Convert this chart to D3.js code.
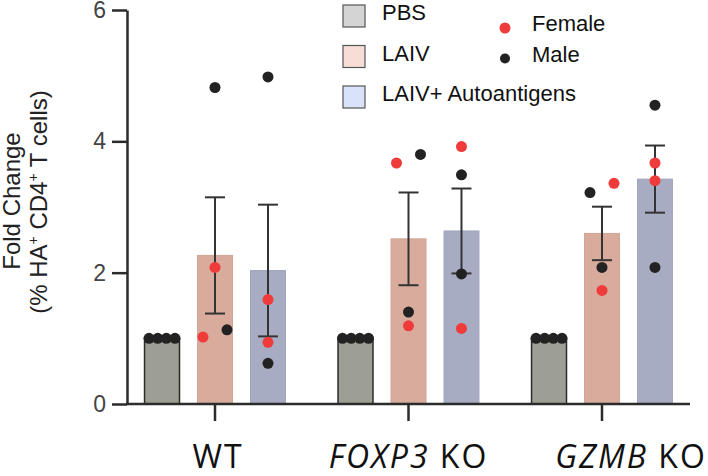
<!DOCTYPE html>
<html>
<head>
<meta charset="utf-8">
<script src="https://cdn.jsdelivr.net/npm/d3@7"></script>
<style>
  body { margin: 0; background: #fff; }
  svg { display: block; }
</style>
</head>
<body>
<div id="chart"></div>
<script>
var width = 708, height = 476;

// data
var groups = ["WT", "FOXP3 KO", "GZMB KO"];
var treatments = ["PBS", "LAIV", "LAIV+ Autoantigens"];
var yTicks = [0, 2, 4, 6];

// PBS: normalised to 1, all male
var pbsMale     = [[1, 1, 1, 1], [1, 1, 1, 1], [1, 1, 1, 1]];
var laivFemale  = [[2.08, 1.02], [3.67, 1.19], [3.36, 1.73]];
var laivMale    = [[4.82, 1.13], [3.80, 1.40], [3.22, 2.08]];
var autoFemale  = [[1.59, 0.94], [3.92, 1.15], [3.67, 3.40]];
var autoMale    = [[4.98, 0.62], [3.49, 1.98], [4.55, 2.08]];

var barFill   = ["#9d9f94", "#d9ab9c", "#a8acc3"];
var barStroke = ["#2b2b2b", "#d2a596", "#a2a6bd"];
var legFill   = ["#d4d4d4", "#f6ddd6", "#d8e3fa"];
var sexColor  = { F: "#f03b3b", M: "#222222" };

// build one record per bar
var bars = [];
groups.forEach(function(g, gi) {
    var sets = [
        { F: [], M: pbsMale[gi] },
        { F: laivFemale[gi], M: laivMale[gi] },
        { F: autoFemale[gi], M: autoMale[gi] }
    ];
    treatments.forEach(function(t, ti) {
        var pts = [];
        sets[ti].F.forEach(function(v) { pts.push({ v: v, sex: "F" }); });
        sets[ti].M.forEach(function(v) { pts.push({ v: v, sex: "M" }); });
        var vals = pts.map(function(p) { return p.v; });
        var mean = d3.mean(vals);
        var sem = d3.deviation(vals) / Math.sqrt(vals.length);
        bars.push({ group: g, gi: gi, treat: t, ti: ti, pts: pts, mean: mean, sem: sem });
    });
});

var svg = d3.select("#chart").append("svg")
    .attr("width", width)
    .attr("height", height);

var y = d3.scaleLinear().domain([0, 6]).range([404, 10]);

var x0 = d3.scalePoint().domain(groups).range([215, 602]);

var x1 = d3.scaleBand().domain(treatments)
    .range([-80, 80])
    .paddingInner(0.34)
    .paddingOuter(0.18);

var bw = x1.bandwidth();

// bars
var barG = svg.append("g");
barG.selectAll("rect")
    .data(bars)
    .enter().append("rect")
    .attr("x", function(d) { return x0(d.group) + x1(d.treat); })
    .attr("y", function(d) { return y(d.mean); })
    .attr("width", bw)
    .attr("height", function(d) { return y(0) - y(d.mean); })
    .attr("fill", function(d) { return barFill[d.ti]; })
    .attr("stroke", function(d) { return barStroke[d.ti]; })
    .attr("stroke-width", function(d) { return d.ti === 0 ? 1.5 : 1; });

// error bars (mean +- SEM)
var errG = svg.append("g")
    .attr("stroke", "#333")
    .attr("stroke-width", 2);

var errBars = bars.filter(function(d) { return d.sem > 0; });

errG.selectAll("line.v")
    .data(errBars)
    .enter().append("line")
    .attr("class", "v")
    .attr("x1", function(d) { return x0(d.group) + x1(d.treat) + bw / 2; })
    .attr("x2", function(d) { return x0(d.group) + x1(d.treat) + bw / 2; })
    .attr("y1", function(d) { return y(d.mean - d.sem); })
    .attr("y2", function(d) { return y(d.mean + d.sem); });

[-1, 1].forEach(function(s) {
    errG.selectAll("line.c" + (s + 1))
        .data(errBars)
        .enter().append("line")
        .attr("x1", function(d) { return x0(d.group) + x1(d.treat) + bw / 2 - 10; })
        .attr("x2", function(d) { return x0(d.group) + x1(d.treat) + bw / 2 + 10; })
        .attr("y1", function(d) { return y(d.mean + s * d.sem); })
        .attr("y2", function(d) { return y(d.mean + s * d.sem); });
});

// points: spread the ones that would overlap
var r = 5.5;
var dots = [];
bars.forEach(function(b) {
    var cx = x0(b.group) + x1(b.treat) + bw / 2;
    var sorted = b.pts.slice().sort(function(a, c) { return a.v - c.v; });
    var clusters = [];
    sorted.forEach(function(p) {
        var last = clusters[clusters.length - 1];
        if (last && Math.abs(y(last[last.length - 1].v) - y(p.v)) < 2 * r) last.push(p);
        else clusters.push([p]);
    });
    clusters.forEach(function(c) {
        var n = c.length;
        var step = n > 1 ? Math.min(24, 26 / (n - 1)) : 0;
        c.forEach(function(p, i) {
            dots.push({ x: cx + (i - (n - 1) / 2) * step, y: y(p.v), sex: p.sex });
        });
    });
});

svg.append("g").selectAll("circle")
    .data(dots)
    .enter().append("circle")
    .attr("cx", function(d) { return d.x; })
    .attr("cy", function(d) { return d.y; })
    .attr("r", r)
    .attr("fill", function(d) { return sexColor[d.sex]; });

// axes
var yAxis = svg.append("g")
    .attr("transform", "translate(127,0)")
    .call(d3.axisLeft(y).tickValues(yTicks).tickFormat(d3.format("d"))
        .tickSize(15).tickPadding(6).tickSizeOuter(0));
yAxis.select(".domain").attr("stroke", "#2b2b2b").attr("stroke-width", 2.5);
yAxis.selectAll(".tick line").attr("stroke", "#2b2b2b").attr("stroke-width", 2.5);
yAxis.selectAll(".tick text")
    .attr("fill", "#444")
    .style("font-family", "'Liberation Sans', Arial, sans-serif")
    .style("font-size", "23px");

var xAxis = svg.append("g")
    .attr("transform", "translate(0,404)");
xAxis.append("line")
    .attr("x1", 126).attr("x2", 690)
    .attr("stroke", "#2b2b2b").attr("stroke-width", 2.5);
xAxis.selectAll("line.tick")
    .data(groups)
    .enter().append("line")
    .attr("class", "tick")
    .attr("x1", function(d) { return x0(d); })
    .attr("x2", function(d) { return x0(d); })
    .attr("y1", 0).attr("y2", 17)
    .attr("stroke", "#2b2b2b").attr("stroke-width", 2.5);

var labelShift = [3, 0, 29];
var catLabel = xAxis.selectAll("text.cat")
    .data(groups)
    .enter().append("text")
    .attr("class", "cat")
    .attr("x", function(d, i) { return x0(d) + labelShift[i]; })
    .attr("y", 64)
    .attr("text-anchor", "middle")
    .attr("fill", "#111")
    .style("font-family", "'Open Sans', sans-serif")
    .style("font-size", "32px")
    .style("letter-spacing", "2px");

catLabel.each(function(d) {
    var parts = d.split(" ");
    var t = d3.select(this);
    if (parts.length > 1) {
        t.append("tspan").style("font-style", "italic").text(parts[0]);
        t.append("tspan").text(" " + parts.slice(1).join(" "));
    } else {
        t.text(d);
    }
});

// y title, two centred lines
var yTitle = svg.append("g")
    .style("font-family", "'Liberation Sans', Arial, sans-serif")
    .style("font-size", "24px")
    .attr("fill", "#222");

yTitle.append("text")
    .attr("transform", "translate(20,201) rotate(-90)")
    .attr("text-anchor", "middle")
    .text("Fold Change");

var t2 = yTitle.append("text")
    .attr("transform", "translate(47,202) rotate(-90)")
    .attr("text-anchor", "middle");
t2.append("tspan").text("(% HA");
t2.append("tspan").attr("dy", -9).style("font-size", "14px").text("+");
t2.append("tspan").attr("dy", 9).text(" CD4");
t2.append("tspan").attr("dy", -9).style("font-size", "14px").text("+");
t2.append("tspan").attr("dy", 9).text(" T cells)");

// legend: treatments
var leg = svg.append("g")
    .style("font-family", "'Liberation Sans', Arial, sans-serif")
    .style("font-size", "22px");

var legRow = leg.selectAll("g")
    .data(treatments)
    .enter().append("g")
    .attr("transform", function(d, i) { return "translate(343," + (5 + i * 40.5) + ")"; });

legRow.append("rect")
    .attr("width", 22).attr("height", 22)
    .attr("fill", function(d, i) { return legFill[i]; })
    .attr("stroke", "#555")
    .attr("stroke-width", 1.2);

legRow.append("text")
    .attr("x", 39).attr("y", 15)
    .attr("fill", "#111")
    .text(function(d) { return d; });

// legend: sex
var sexLeg = [["F", "Female"], ["M", "Male"]];
var sexRow = leg.selectAll("g.sex")
    .data(sexLeg)
    .enter().append("g")
    .attr("class", "sex")
    .attr("transform", function(d, i) { return "translate(505," + (28 + i * 30.5) + ")"; });

sexRow.append("circle")
    .attr("r", function(d) { return d[0] === "F" ? 5.5 : 5; })
    .attr("fill", function(d) { return sexColor[d[0]]; });

sexRow.append("text")
    .attr("x", 27).attr("y", 3)
    .attr("fill", "#111")
    .text(function(d) { return d[1]; });
</script>
</body>
</html>
